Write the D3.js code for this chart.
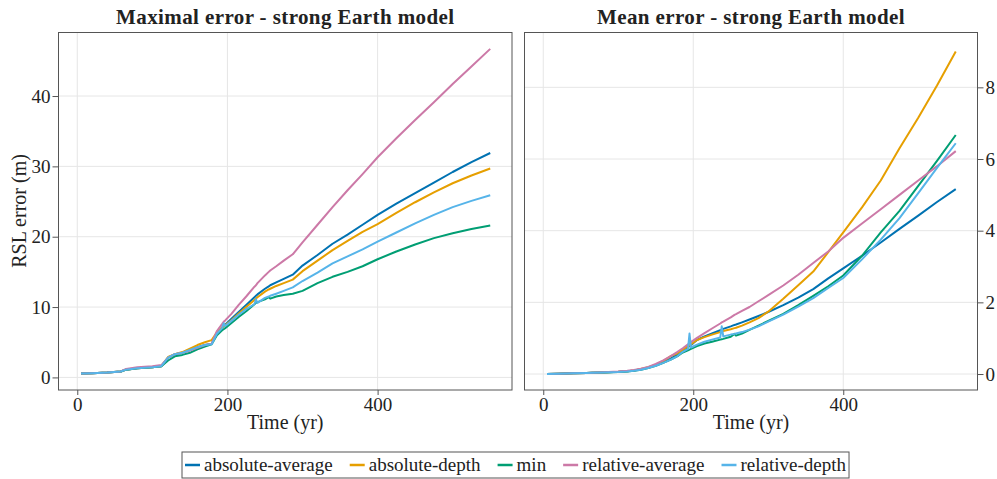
<!DOCTYPE html>
<html>
<head>
<meta charset="utf-8">
<script src="https://cdn.jsdelivr.net/npm/d3@7"></script>
<style>
body { margin: 0; background: #fff; }
text { font-family: "Liberation Serif", serif; fill: #222; }
</style>
</head>
<body>
<script>
// time axis shared by every series (yr)
const time = [5, 20, 40, 58, 65, 80, 100, 112, 121, 130, 140, 150, 160, 170, 179, 186, 193, 195, 197, 205,
  215, 225, 236, 238, 240, 250, 255, 257, 265, 275, 287, 300, 320, 340, 360, 380, 400, 425, 450, 475, 500, 525, 550];

const seriesNames = ["absolute-average", "absolute-depth", "min", "relative-average", "relative-depth"];
const colors = ["#0072b2", "#e69f00", "#009e73", "#cc79a7", "#56b4e9"];

// maximal error (m)
const maxAbsAvg = [0.55, 0.6, 0.7, 0.85, 1.1, 1.3, 1.45, 1.6, 2.8, 3.3, 3.5, 3.9, 4.3, 4.6, 4.8, 6.3, 7.1, 7.3, 7.5, 8.3,
  9.3, 10.3, 11.4, 11.6, 11.8, 12.6, 12.95, 13.1, 13.5, 14.0, 14.6, 15.9, 17.4, 19.0, 20.3, 21.7, 23.1, 24.7, 26.2, 27.7, 29.2, 30.6, 31.9];
const maxAbsDepth = [0.55, 0.6, 0.7, 0.85, 1.1, 1.3, 1.45, 1.6, 2.9, 3.3, 3.6, 4.1, 4.6, 5.0, 5.3, 6.4, 7.1, 7.3, 7.4, 8.1,
  9.1, 10.0, 11.0, 11.2, 11.4, 12.2, 12.5, 12.6, 13.0, 13.4, 13.9, 15.1, 16.6, 18.1, 19.4, 20.7, 21.8, 23.4, 24.9, 26.3, 27.6, 28.7, 29.7];
const maxMin = [0.55, 0.6, 0.7, 0.85, 1.1, 1.3, 1.45, 1.6, 2.4, 3.0, 3.2, 3.5, 4.0, 4.4, 4.7, 6.0, 6.7, 6.85, 7.0, 7.7,
  8.6, 9.4, 10.4, 10.6, 10.7, 11.1, 11.4, 11.2, 11.5, 11.7, 11.9, 12.3, 13.4, 14.3, 15.0, 15.8, 16.8, 17.9, 18.9, 19.8, 20.5, 21.1, 21.6];
const maxRelAvg = [0.55, 0.6, 0.7, 0.85, 1.2, 1.45, 1.6, 1.75, 2.8, 3.3, 3.5, 3.8, 4.2, 4.6, 4.8, 6.6, 7.6, 7.9, 8.1, 9.0,
  10.3, 11.5, 12.9, 13.1, 13.4, 14.5, 15.0, 15.2, 15.8, 16.6, 17.5, 19.2, 21.7, 24.2, 26.6, 28.9, 31.3, 34.0, 36.6, 39.1, 41.7, 44.2, 46.7];
const maxRelDepth = [0.55, 0.6, 0.7, 0.85, 1.1, 1.3, 1.45, 1.6, 2.8, 3.3, 3.5, 3.9, 4.3, 4.6, 4.7, 6.2, 7.0, 7.7, 7.3, 8.0,
  8.9, 9.7, 10.4, 11.1, 10.6, 11.3, 11.5, 11.6, 11.9, 12.3, 12.8, 13.7, 14.9, 16.2, 17.2, 18.2, 19.3, 20.6, 21.9, 23.1, 24.2, 25.1, 25.9];

// mean error (m)
const meanAbsAvg = [0, 0.01, 0.02, 0.03, 0.035, 0.045, 0.06, 0.08, 0.1, 0.13, 0.18, 0.25, 0.33, 0.43, 0.55, 0.65, 0.75, 0.78, 0.81, 0.95,
  1.05, 1.13, 1.22, 1.24, 1.26, 1.33, 1.37, 1.38, 1.44, 1.52, 1.62, 1.73, 1.92, 2.13, 2.37, 2.67, 2.95, 3.3, 3.67, 4.05, 4.42, 4.8, 5.16];
const meanAbsDepth = [0, 0.01, 0.02, 0.03, 0.035, 0.045, 0.06, 0.08, 0.1, 0.14, 0.19, 0.26, 0.36, 0.5, 0.58, 0.68, 0.78, 0.8, 0.83, 0.95,
  1.03, 1.1, 1.17, 1.18, 1.2, 1.25, 1.28, 1.29, 1.35, 1.44, 1.56, 1.74, 2.1, 2.48, 2.86, 3.4, 3.95, 4.65, 5.4, 6.3, 7.15, 8.05, 9.0];
const meanMin = [0, 0.01, 0.02, 0.03, 0.035, 0.045, 0.055, 0.07, 0.09, 0.12, 0.17, 0.23, 0.31, 0.4, 0.5, 0.6, 0.66, 0.68, 0.7, 0.78,
  0.85, 0.9, 0.96, 0.97, 0.98, 1.04, 1.12, 1.07, 1.13, 1.23, 1.35, 1.48, 1.68, 1.92, 2.18, 2.45, 2.75, 3.3, 3.95, 4.55, 5.25, 5.95, 6.67];
const meanRelAvg = [0, 0.01, 0.02, 0.03, 0.035, 0.05, 0.07, 0.09, 0.11, 0.15, 0.2, 0.28, 0.38, 0.5, 0.62, 0.72, 0.83, 0.86, 0.89, 1.01,
  1.14, 1.27, 1.41, 1.44, 1.46, 1.58, 1.65, 1.67, 1.76, 1.87, 2.03, 2.2, 2.47, 2.77, 3.1, 3.42, 3.8, 4.2, 4.6, 5.0, 5.4, 5.8, 6.22];
const meanRelDepth = [0, 0.01, 0.02, 0.03, 0.035, 0.045, 0.055, 0.07, 0.09, 0.12, 0.17, 0.23, 0.31, 0.4, 0.5, 0.62, 0.7, 1.13, 0.74, 0.82,
  0.9, 0.96, 1.02, 1.33, 1.05, 1.1, 1.12, 1.13, 1.17, 1.24, 1.33, 1.46, 1.66, 1.88, 2.12, 2.4, 2.68, 3.2, 3.75, 4.35, 5.05, 5.75, 6.44];

const xTicks = [0, 200, 400];
const maxTicks = [0, 10, 20, 30, 40];
const meanTicks = [0, 2, 4, 6, 8];

const W = 997, H = 479;
const svg = d3.select("body").append("svg").attr("width", W).attr("height", H);

const plotTop = 32.5, plotBottom = 390;

function panel(opts) {
  const x = d3.scaleLinear().domain([-25, 579]).range([opts.left, opts.right]);
  const y = d3.scaleLinear().domain(opts.ydom).range([plotBottom, plotTop]);
  const g = svg.append("g");

  // grid
  g.selectAll(".gx").data(xTicks).join("line")
    .attr("x1", d => x(d)).attr("x2", d => x(d)).attr("y1", plotTop).attr("y2", plotBottom)
    .attr("stroke", "#e6e6e6").attr("stroke-width", 1);
  g.selectAll(".gy").data(opts.yticks).join("line")
    .attr("x1", opts.left).attr("x2", opts.right).attr("y1", d => y(d)).attr("y2", d => y(d))
    .attr("stroke", "#e6e6e6").attr("stroke-width", 1);

  // axes
  const xa = g.append("g").attr("transform", `translate(0,${plotBottom})`)
    .call(d3.axisBottom(x).tickValues(xTicks).tickSize(5).tickPadding(3));
  let ya;
  if (opts.side === "left") {
    ya = g.append("g").attr("transform", `translate(${opts.left},0)`)
      .call(d3.axisLeft(y).tickValues(opts.yticks).tickSize(6).tickPadding(2));
  } else {
    ya = g.append("g").attr("transform", `translate(${opts.right},0)`)
      .call(d3.axisRight(y).tickValues(opts.yticks).tickSize(6).tickPadding(2));
  }
  [xa, ya].forEach(a => {
    a.select(".domain").remove();
    a.selectAll(".tick line").attr("stroke", "#555");
    a.selectAll("text").attr("font-family", "Liberation Serif").attr("font-size", 19).attr("fill", "#222");
  });

  // lines
  const line = d3.line().x((d, i) => x(time[i])).y(d => y(d));
  opts.series.forEach((s, k) => {
    g.append("path").datum(s).attr("d", line)
      .attr("fill", "none").attr("stroke", colors[k]).attr("stroke-width", 2)
      .attr("stroke-linejoin", "round");
  });

  // frame
  g.append("rect").attr("x", opts.left).attr("y", plotTop)
    .attr("width", opts.right - opts.left).attr("height", plotBottom - plotTop)
    .attr("fill", "none").attr("stroke", "#555").attr("stroke-width", 1);

  // title & label
  const cx = (opts.left + opts.right) / 2;
  g.append("text").attr("x", cx).attr("y", 24).attr("text-anchor", "middle")
    .attr("font-size", 21).attr("font-weight", "bold").attr("letter-spacing", 0.4).text(opts.title);
  g.append("text").attr("x", cx).attr("y", 429).attr("text-anchor", "middle")
    .attr("font-size", 20).text("Time (yr)");
}

panel({
  left: 58.5, right: 512, ydom: [-1.79, 49.03], yticks: maxTicks, side: "left",
  title: "Maximal error - strong Earth model",
  series: [maxAbsAvg, maxAbsDepth, maxMin, maxRelAvg, maxRelDepth]
});
panel({
  left: 524.5, right: 977.5, ydom: [-0.446, 9.53], yticks: meanTicks, side: "right",
  title: "Mean error - strong Earth model",
  series: [meanAbsAvg, meanAbsDepth, meanMin, meanRelAvg, meanRelDepth]
});

svg.append("text").attr("transform", "translate(26,211) rotate(-90)")
  .attr("text-anchor", "middle").attr("font-size", 20).text("RSL error (m)");

// legend
const leg = svg.append("g");
let lx = 185;
const ly = 465;
seriesNames.forEach((n, k) => {
  leg.append("line").attr("x1", lx).attr("x2", lx + 15).attr("y1", ly).attr("y2", ly)
    .attr("stroke", colors[k]).attr("stroke-width", 2.5);
  const t = leg.append("text").attr("x", lx + 19).attr("y", ly + 6).attr("font-size", 19).text(n);
  lx += 19 + t.node().getComputedTextLength() + 17;
});
const legW = lx - 17 + 3 - 182;
leg.insert("rect", ":first-child").attr("x", 182).attr("y", 452).attr("width", legW).attr("height", 26)
  .attr("fill", "#fff").attr("stroke", "#555").attr("stroke-width", 1);
</script>
</body>
</html>
